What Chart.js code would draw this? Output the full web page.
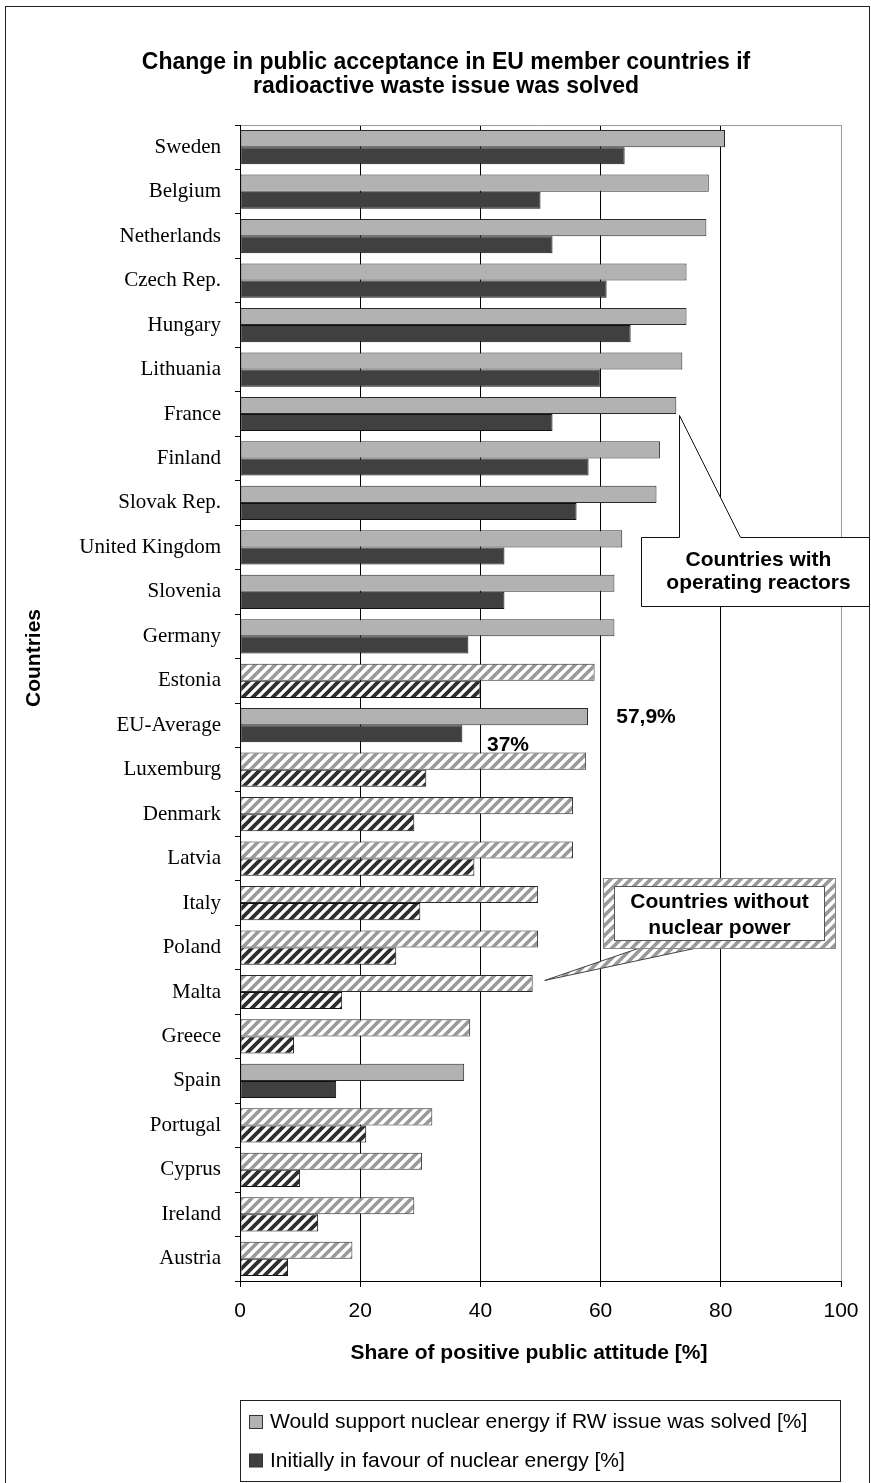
<!DOCTYPE html>
<html>
<head>
<meta charset="utf-8">
<script src="https://cdn.jsdelivr.net/npm/chart.js@4/dist/chart.umd.min.js"></script>
<style>
html,body{margin:0;padding:0;background:#fff;}
#wrap{position:relative;width:871px;height:1483px;}
</style>
</head>
<body>
<div id="wrap"><canvas id="c" width="871" height="1483"></canvas></div>
<script>
// ---- data ----
const categories = ["Sweden","Belgium","Netherlands","Czech Rep.","Hungary","Lithuania","France","Finland","Slovak Rep.","United Kingdom","Slovenia","Germany","Estonia","EU-Average","Luxemburg","Denmark","Latvia","Italy","Poland","Malta","Greece","Spain","Portugal","Cyprus","Ireland","Austria"];
const supportIfSolved = [80.7,78.0,77.6,74.3,74.3,73.6,72.6,69.9,69.3,63.6,62.3,62.3,59.0,57.9,57.6,55.4,55.4,49.6,49.6,48.7,38.3,37.3,32.0,30.3,29.0,18.7];
const initiallyInFavour = [64,50,52,61,65,60,52,58,56,44,44,38,40,37,31,29,39,30,26,17,9,16,21,10,13,8];
const withoutNuclearPower = ["Estonia","Luxemburg","Denmark","Latvia","Italy","Poland","Malta","Greece","Portugal","Cyprus","Ireland","Austria"];
const xTickValues = [0,20,40,60,80,100];
const seriesNames = ["Would support nuclear energy if RW issue was solved [%]","Initially in favour of nuclear energy [%]"];
const chartTitle = ["Change in public acceptance in EU member countries if","radioactive waste issue was solved"];
const xAxisTitle = "Share of positive public attitude [%]";
const yAxisTitle = "Countries";
const calloutReactors = ["Countries with","operating reactors"];
const calloutNoNuclear = ["Countries without","nuclear power"];

// ---- styles ----
const LIGHT = '#B2B2B2', DARK = '#404040';
const canvas = document.getElementById('c');
const ctx = canvas.getContext('2d');
function hatch(fg, lw){
  const s = 10, c = document.createElement('canvas');
  c.width = s; c.height = s;
  const g = c.getContext('2d');
  g.fillStyle = '#fff'; g.fillRect(0,0,s,s);
  g.strokeStyle = fg; g.lineWidth = lw;
  g.beginPath();
  for (const k of [-1,0,1]) { g.moveTo(k*s-2, s+2); g.lineTo(k*s+s+2, -2); }
  g.stroke();
  return ctx.createPattern(c, 'repeat');
}
const lightHatch = hatch('#9a9a9a', 3.6);
const darkHatch = hatch('#2e2e2e', 3.8);
const noNuc = categories.map(c => withoutNuclearPower.includes(c));

const SANS = '"Liberation Sans", Arial, Helvetica, sans-serif';
const SERIF = '"Liberation Serif", "Times New Roman", serif';

const overlay = {
  id: 'overlay',
  beforeDraw(chart){
    const g = chart.ctx;
    g.save(); g.fillStyle = '#fff'; g.fillRect(0,0,chart.width,chart.height); g.restore();
  },
  afterDraw(chart){
    const g = chart.ctx, a = chart.chartArea;
    const xs = chart.scales.x, ys = chart.scales.y;
    g.save();
    // outer frame
    g.strokeStyle = '#222'; g.lineWidth = 1;
    g.strokeRect(5.5, 6.5, 864, 1495);
    // top border of plot
    g.strokeStyle = '#9a9a9a';
    g.beginPath(); g.moveTo(a.left+1, a.top+0.5); g.lineTo(a.right+0.5, a.top+0.5); g.stroke();

    // title
    g.fillStyle = '#000';
    g.font = 'bold 23px ' + SANS;
    g.textAlign = 'center'; g.textBaseline = 'alphabetic';
    g.fillText(chartTitle[0], 446, 69);
    g.fillText(chartTitle[1], 446, 93);

    // axis titles
    g.font = 'bold 21px ' + SANS;
    g.textBaseline = 'middle';
    g.fillText(xAxisTitle, 529, 1353);
    g.save(); g.translate(34, 658); g.rotate(-Math.PI/2);
    g.fillText(yAxisTitle, 0, 0); g.restore();

    // legend
    g.strokeStyle = '#222'; g.lineWidth = 1;
    g.strokeRect(240.5, 1400.5, 600, 81);
    const legendColors = [LIGHT, DARK];
    const legendBase = [1428, 1466.5];
    g.font = '21px ' + SANS; g.textAlign = 'left'; g.textBaseline = 'alphabetic';
    for (let i=0;i<2;i++){
      const top = legendBase[i] - 13;
      g.fillStyle = legendColors[i]; g.fillRect(249.5, top+0.5, 13, 13);
      g.strokeStyle = '#333'; g.strokeRect(249.5, top+0.5, 13, 13);
      g.fillStyle = '#000'; g.fillText(chart.data.datasets[i].label, 270, legendBase[i]);
    }

    // EU-average value labels
    const eu = categories.indexOf('EU-Average');
    const euY = ys.getPixelForValue(eu);
    g.font = 'bold 21px ' + SANS; g.textBaseline = 'middle'; g.fillStyle = '#000';
    g.fillText(supportIfSolved[eu].toFixed(1).replace('.', ',') + '%', xs.getPixelForValue(62.6), euY - 8);
    g.fillText(initiallyInFavour[eu] + '%', xs.getPixelForValue(41.1), euY + 20);

    // callout: countries with operating reactors (anchored at France bar end)
    const fr = categories.indexOf('France');
    const frMeta = chart.getDatasetMeta(0).data[fr];
    const tipX = Math.round(frMeta.x) + 3.5, tipY = Math.round(frMeta.y + frMeta.height/2) + 1.5;
    const bTop = 537.5, bBot = 606.5, bL = 641.5, bR = 869.5;
    g.beginPath();
    g.moveTo(tipX, tipY);
    g.lineTo(tipX, bTop);
    g.lineTo(bL, bTop);
    g.lineTo(bL, bBot);
    g.lineTo(bR, bBot);
    g.lineTo(bR, bTop);
    g.lineTo(740.5, bTop);
    g.closePath();
    g.fillStyle = '#fff'; g.fill();
    g.strokeStyle = '#111'; g.lineWidth = 1; g.stroke();
    g.fillStyle = '#000'; g.font = 'bold 21px ' + SANS; g.textAlign = 'center'; g.textBaseline = 'middle';
    g.fillText(calloutReactors[0], 758.5, 560);
    g.fillText(calloutReactors[1], 758.5, 583);

    // callout: countries without nuclear power (anchored at Malta bar end)
    const mt = categories.indexOf('Malta');
    const mtMeta = chart.getDatasetMeta(0).data[mt];
    const mTipX = mtMeta.x + 12, mTipY = mtMeta.y - 3;
    const oL = 603.5, oT = 878.5, oR = 835.5, oB = 948.5;
    g.beginPath();
    g.moveTo(641, oB - 1); g.lineTo(mTipX, mTipY); g.lineTo(699, oB - 1); g.closePath();
    g.fillStyle = lightHatch; g.fill();
    g.strokeStyle = '#444'; g.stroke();
    g.fillStyle = lightHatch; g.fillRect(oL, oT, oR-oL, oB-oT);
    g.strokeStyle = '#888'; g.strokeRect(oL, oT, oR-oL, oB-oT);
    g.fillStyle = '#fff'; g.fillRect(oL+11, oT+8, oR-oL-22, oB-oT-16);
    g.strokeStyle = '#555'; g.strokeRect(oL+11, oT+8, oR-oL-22, oB-oT-16);
    g.fillStyle = '#000';
    g.fillText(calloutNoNuclear[0], 719.5, 902);
    g.fillText(calloutNoNuclear[1], 719.5, 928);
    g.restore();
  }
};

new Chart(ctx, {
  type: 'bar',
  data: {
    labels: categories,
    datasets: [
      { label: seriesNames[0], data: supportIfSolved,
        backgroundColor: categories.map((c,i) => noNuc[i] ? lightHatch : LIGHT),
        borderColor: '#2a2a2a', borderWidth: 1, borderSkipped: false },
      { label: seriesNames[1], data: initiallyInFavour,
        backgroundColor: categories.map((c,i) => noNuc[i] ? darkHatch : DARK),
        borderColor: '#111', borderWidth: 1, borderSkipped: false }
    ]
  },
  options: {
    indexAxis: 'y',
    responsive: false,
    animation: false,
    layout: { padding: { top: 125, right: 30, bottom: 0, left: 0 } },
    datasets: { bar: { categoryPercentage: 0.77, barPercentage: 1.0 } },
    plugins: { legend: { display: false }, title: { display: false }, tooltip: { enabled: false } },
    scales: {
      x: {
        min: 0, max: 100,
        afterBuildTicks(s){ s.ticks = xTickValues.map(v => ({ value: v })); },
        ticks: { font: { family: SANS, size: 21 }, color: '#000', padding: 12, maxRotation: 0 },
        grid: { color: c => (c.tick && c.tick.value === 100) ? '#9a9a9a' : '#000', tickColor: '#000', tickLength: 6, lineWidth: 1 },
        border: { color: '#000', width: 1 },
        afterFit(s){ s.height = 202; }
      },
      y: {
        ticks: { font: { family: SERIF, size: 21 }, color: '#000', padding: 14, autoSkip: false },
        grid: { offset: true, drawOnChartArea: false, tickLength: 5, color: '#000', lineWidth: 1 },
        border: { color: '#000', width: 1 },
        afterFit(s){ s.width = 240; }
      }
    }
  },
  plugins: [overlay]
});
</script>
</body>
</html>
